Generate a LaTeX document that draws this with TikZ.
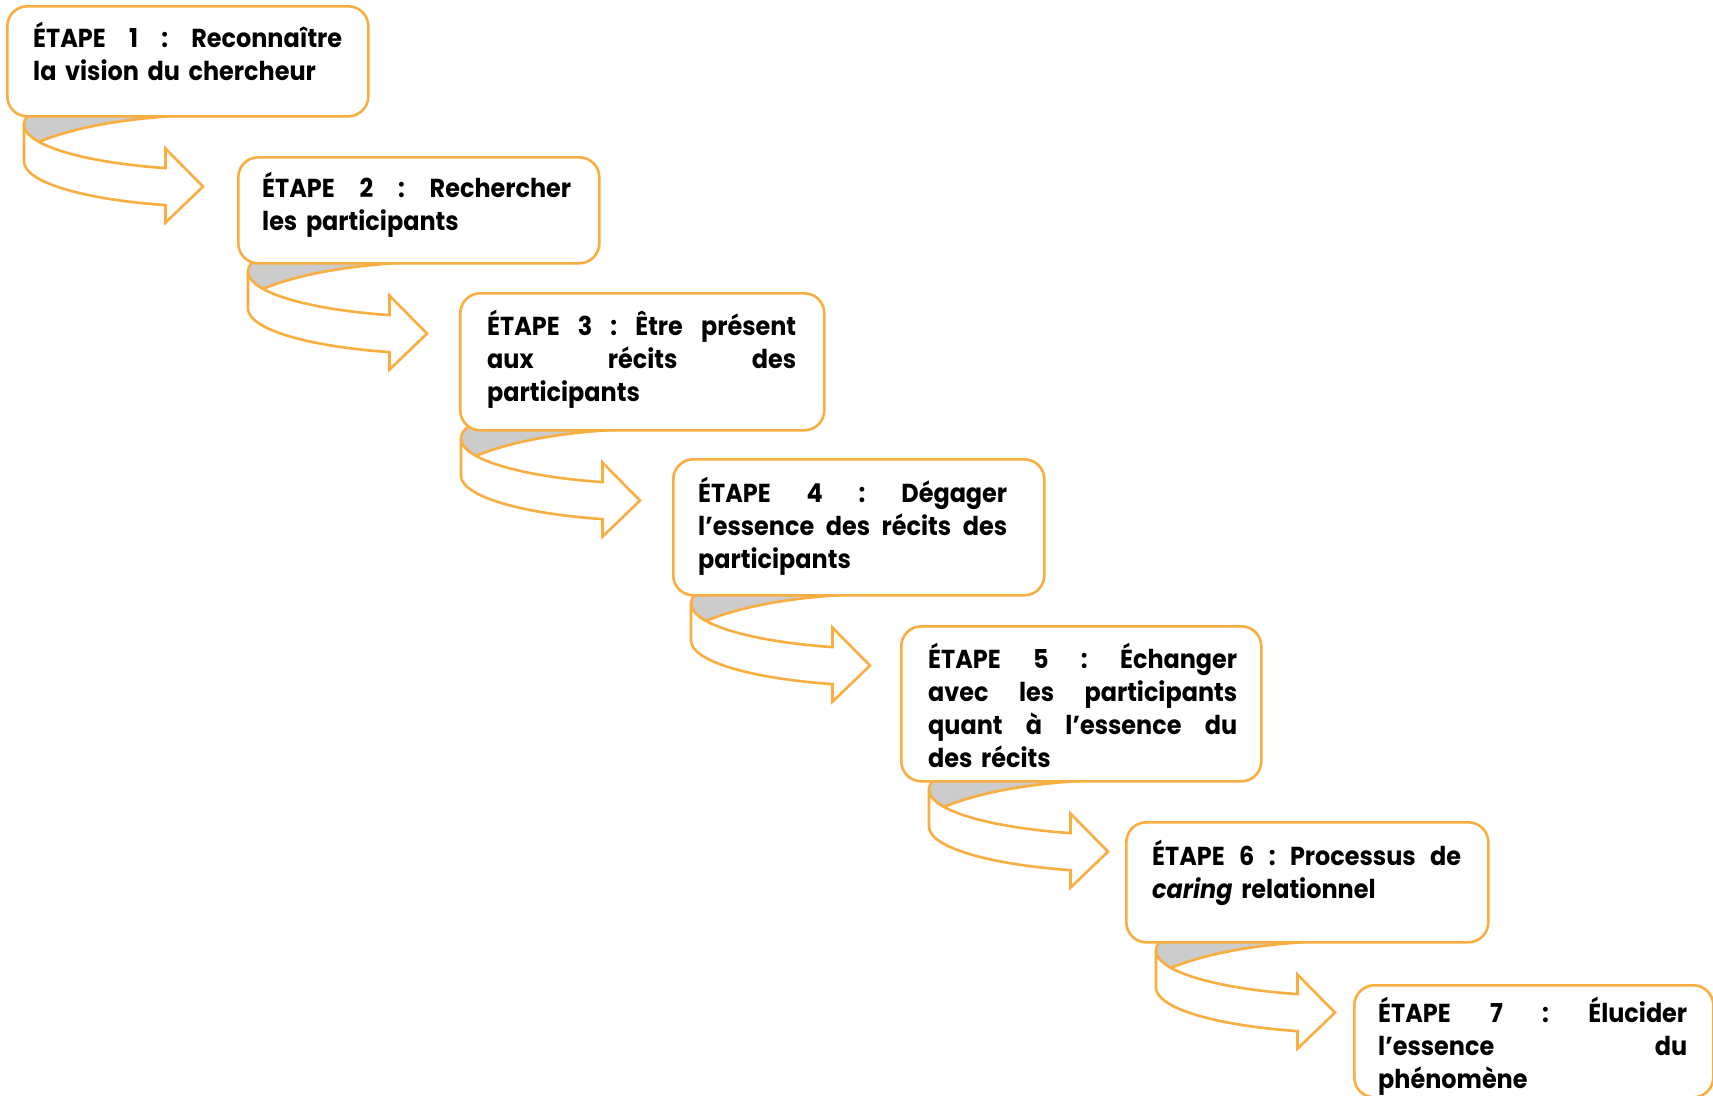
\documentclass[tikz,border=0pt]{standalone}
\usepackage{fontspec}
\setmainfont{Poppins}[FakeStretch=0.92]
\usetikzlibrary{calc}
\definecolor{ribbonorange}{HTML}{F9AE3F}
\definecolor{ribbonback}{HTML}{CCCCCC}
\pgfdeclarelayer{paper}
\pgfdeclarelayer{ribbons}
\pgfsetlayers{paper,ribbons,main}
% a line spread out to the full text width
\newcommand\fullline[1]{\leavevmode\hbox to 309pt{#1}}

\tikzset{
  stepbox/.style={draw=ribbonorange, line width=2.6pt, fill=white,
    rounded corners=20pt, inner sep=0pt, anchor=north west},
  steptext/.style={anchor=base west, inner sep=0pt, text width=309pt,
    align=left, font=\bfseries\fontsize{26}{33}\selectfont},
  ribbonline/.style={draw=ribbonorange, line width=2.6pt, line join=miter},
  % curled step arrow: grey inner side, then the white front band with its head
  pics/ribbon/.style={code={
    \filldraw[ribbonline, fill=ribbonback]
      (14.96,24.27) arc[start angle=157.7, end angle=215, x radius=200, y radius=45.5]
      -- (175,-19.1) -- (175,-3)
      .. controls (100,0) and (50,10) .. (14.96,24.27) -- cycle;
    \filldraw[ribbonline, fill=white]
      (0,7) arc[start angle=180, end angle=107, x radius=200, y radius=45.5]
      -- (141.53,31) -- (179,69) -- (141.53,105) -- (141.53,87.51)
      arc[start angle=107, end angle=180, x radius=200, y radius=45.5]
      -- cycle;
  }}
}

\begin{document}
\begin{tikzpicture}[x=1pt, y=-1pt]
\useasboundingbox (0,0) rectangle (1713,1095);
\begin{pgfonlayer}{paper}
  \fill[white] (0,0) rectangle (1713,1095);
\end{pgfonlayer}

% step boxes
\node[stepbox, minimum width=361pt, minimum height=110pt] (b1) at (6,5) {};
\node[stepbox, minimum width=361pt, minimum height=106pt] (b2) at (237,156) {};
\node[stepbox, minimum width=364pt, minimum height=137pt] (b3) at (459,292) {};
\node[stepbox, minimum width=371pt, minimum height=136pt] (b4) at (672,458) {};
\node[stepbox, minimum width=360pt, minimum height=155pt] (b5) at (900,625) {};
\node[stepbox, minimum width=362pt, minimum height=120pt] (b6) at (1125,821) {};
\node[stepbox, minimum width=359pt, minimum height=112pt] (b7) at (1353,984) {};

% step texts, placed on the baseline of their first line
\node[steptext] (t1) at ($(b1.north west)+(27,42)$)
  {\fullline{ÉTAPE\hfill 1\hfill :\hfill Reconnaître}\\la vision du chercheur};
\node[steptext] (t2) at ($(b2.north west)+(25,41)$)
  {\fullline{ÉTAPE\hfill 2\hfill :\hfill Rechercher}\\les participants};
\node[steptext] (t3) at ($(b3.north west)+(28,43)$)
  {\fullline{ÉTAPE\hfill 3\hfill :\hfill Être\hfill présent}\\\fullline{aux\hfill récits\hfill des}\\participants};
\node[steptext] (t4) at ($(b4.north west)+(26,44)$)
  {\fullline{ÉTAPE\hfill 4\hfill :\hfill Dégager}\\\fullline{l’essence\hfill des\hfill récits\hfill des}\\participants};
\node[steptext] (t5) at ($(b5.north west)+(28,43)$)
  {\fullline{ÉTAPE\hfill 5\hfill :\hfill Échanger}\\\fullline{avec\hfill les\hfill participants}\\\fullline{quant\hfill à\hfill l’essence\hfill du}\\des récits};
\node[steptext] (t6) at ($(b6.north west)+(27,44)$)
  {\fullline{ÉTAPE\hfill 6\hfill :\hfill Processus\hfill de}\\\textit{caring} relationnel};
\node[steptext] (t7) at ($(b7.north west)+(25,38)$)
  {\fullline{ÉTAPE\hfill 7\hfill :\hfill Élucider}\\\fullline{l’essence\hfill du}\\phénomène};

% curled arrows leading from each step down to the next
\coordinate (a1) at ($(b1.south west)+(18,0)$);
\coordinate (a2) at ($(b2.south west)+(11,0)$);
\coordinate (a3) at ($(b3.south west)+(2,0)$);
\coordinate (a4) at ($(b4.south west)+(19,0)$);
\coordinate (a5) at ($(b5.south west)+(29,0)$);
\coordinate (a6) at ($(b6.south west)+(31,0)$);
\begin{pgfonlayer}{ribbons}
  \foreach \k in {1,...,6} { \pic at (a\k) {ribbon}; }
\end{pgfonlayer}
\end{tikzpicture}
\end{document}
